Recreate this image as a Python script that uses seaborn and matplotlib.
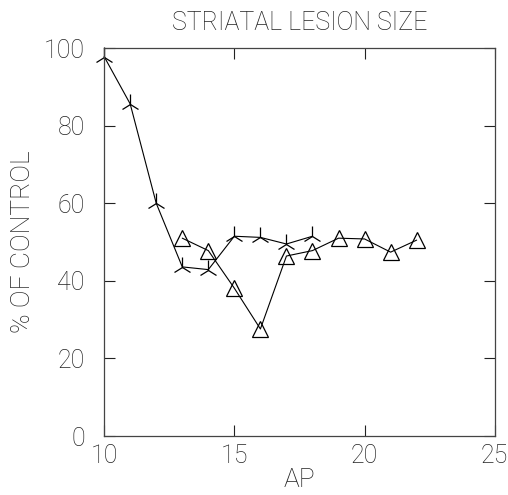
import seaborn as sns
import pandas as pd
import matplotlib.pyplot as plt

# control-lesion series (tri markers)
ap_a = [10, 11, 12, 13, 14, 15, 16, 17, 18]
pct_a = [97.8, 85.6, 60.0, 43.6, 42.9, 51.5, 51.2, 49.5, 51.5]

# second series (open triangles)
ap_b = [13, 14, 15, 16, 17, 18, 19, 20, 21, 22]
pct_b = [51.0, 47.8, 38.1, 27.6, 46.4, 47.8, 51.0, 50.8, 47.4, 50.5]

x_ticks = [10, 15, 20, 25]
y_ticks = [0, 20, 40, 60, 80, 100]

df_a = pd.DataFrame({'AP': ap_a, 'pct': pct_a})
df_b = pd.DataFrame({'AP': ap_b, 'pct': pct_b})

sns.set_style('ticks')
plt.rcParams['font.family'] = ['Roboto', 'DejaVu Sans']

fig = plt.figure(figsize=(5.08, 4.95), dpi=100)
ax = fig.add_axes([0.205, 0.119, 0.769, 0.784])

sns.lineplot(data=df_a, x='AP', y='pct', ax=ax, color='black', linewidth=0.8,
             marker='2', markersize=14, markeredgewidth=0.9, markeredgecolor='black',
             clip_on=False)
sns.lineplot(data=df_b, x='AP', y='pct', ax=ax, color='black', linewidth=0.8,
             marker='^', markersize=11, markerfacecolor='none',
             markeredgewidth=0.9, markeredgecolor='black', clip_on=False)

ax.set_xlim(10, 25)
ax.set_ylim(0, 100)
ax.set_xticks(x_ticks)
ax.set_yticks(y_ticks)
ax.tick_params(direction='in', length=8, width=0.8, top=True, right=True,
               labelsize=18, colors='#222222')
ax.tick_params(axis='y', pad=14)
ax.tick_params(axis='x', pad=6)
for s in ax.spines.values():
    s.set_visible(True)
    s.set_color('#444444')
    s.set_linewidth(0.9)

ax.set_xlabel('AP', fontsize=19, fontweight='light', color='#222222', labelpad=0)
ax.set_ylabel('% OF CONTROL', fontsize=19, fontweight='light', color='#222222', labelpad=6)
ax.set_title('STRIATAL LESION SIZE', fontsize=18, fontweight='light', color='#222222', pad=13)

for lab in ax.get_xticklabels() + ax.get_yticklabels():
    lab.set_fontweight('light')

fig.savefig('out.png', dpi=100)
